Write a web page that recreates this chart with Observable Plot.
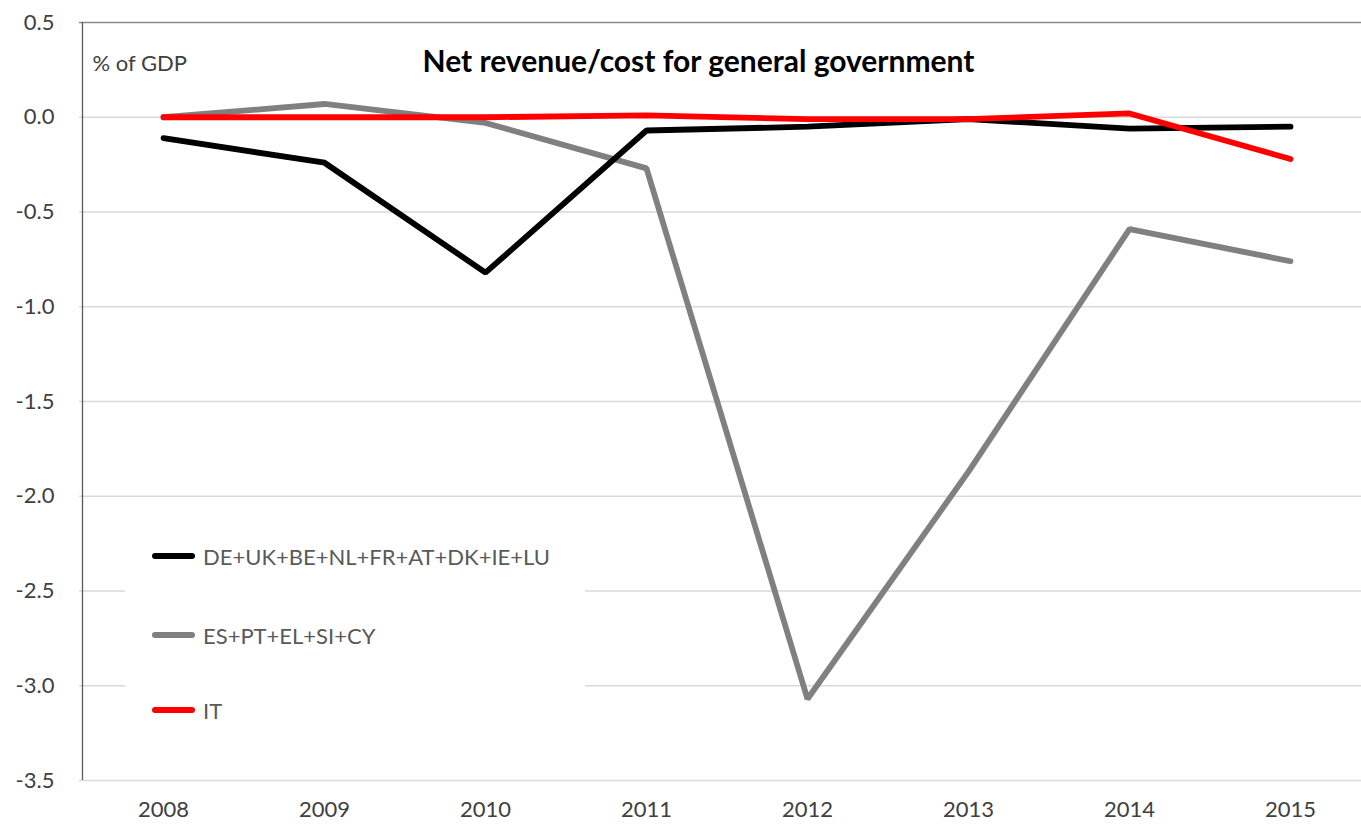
<!DOCTYPE html>
<html>
<head>
<meta charset="utf-8">
<script src="https://cdn.jsdelivr.net/npm/d3@7"></script>
<script src="https://cdn.jsdelivr.net/npm/@observablehq/plot@0.6"></script>
<style>
  html, body { margin: 0; padding: 0; background: #fff; }
  #wrap { position: relative; width: 1361px; height: 825px; overflow: hidden; font-family: Lato, "Open Sans", sans-serif; }
  #legend { position: absolute; left: 125px; top: 520px; width: 460px; height: 212px; background: #fff; }
  .li { position: absolute; left: 27px; height: 24px; display: flex; align-items: center; font-size: 22px; color: #595959; white-space: nowrap; }
  .sw { width: 43px; height: 6px; border-radius: 3px; margin-right: 8px; }
</style>
</head>
<body>
<div id="wrap"></div>
<script>
const years = ["2008","2009","2010","2011","2012","2013","2014","2015"];
const seriesNames = ["DE+UK+BE+NL+FR+AT+DK+IE+LU", "ES+PT+EL+SI+CY", "IT"];
const seriesColors = ["#000000", "#808080", "#ff0000"];
const northValues = [-0.11, -0.24, -0.82, -0.07, -0.05, -0.01, -0.06, -0.05];
const southValues = [0.00, 0.07, -0.03, -0.27, -3.07, -1.87, -0.59, -0.76];
const italyValues = [0.00, 0.00, 0.00, 0.01, -0.01, -0.01, 0.02, -0.22];
const yTicks = [0.5, 0.0, -0.5, -1.0, -1.5, -2.0, -2.5, -3.0, -3.5];
const titleText = "Net revenue/cost for general government";
const unitText = "% of GDP";

const allSeries = [northValues, southValues, italyValues];
const data = [];
allSeries.forEach((vals, i) => vals.forEach((v, j) => data.push({year: years[j], value: v, series: seriesNames[i]})));
const drawOrder = [seriesNames[1], seriesNames[0], seriesNames[2]];

const chart = Plot.plot({
  width: 1361,
  height: 825,
  marginLeft: 79,
  marginTop: 22,
  marginBottom: 45,
  marginRight: 0,
  style: {fontFamily: "Lato, 'Open Sans', sans-serif", fontSize: "22px", color: "#404040", background: "#fff", overflow: "hidden"},
  x: {type: "point", domain: years, padding: 0.5, range: [79, 1373], label: null},
  y: {domain: [-3.5, 0.5], ticks: yTicks, label: null, tickFormat: d => d.toFixed(1)},
  color: {domain: seriesNames, range: seriesColors},
  marks: [
    Plot.ruleY(yTicks.slice(1), {stroke: "#d9d9d9", strokeWidth: 1.3}),
    Plot.ruleY([yTicks[0]], {stroke: "#8c8c8c", strokeWidth: 1.3}),
    Plot.ruleX([years[0]], {dx: -81, stroke: "#595959", strokeWidth: 1.3}),
    Plot.axisY({ticks: yTicks, tickSize: 0, tickPadding: 25, tickFormat: d => d.toFixed(1), fill: "#404040", fontSize: 22, label: null}),
    Plot.axisX({tickSize: 0, tickPadding: 21, fill: "#404040", fontSize: 22, label: null}),
    ...drawOrder.map(name => Plot.line(data.filter(d => d.series === name), {
      x: "year", y: "value", stroke: "series", strokeWidth: 5.8, strokeLinejoin: "miter", strokeLinecap: "round"
    })),
    Plot.text([titleText], {frameAnchor: "top", lineAnchor: "middle", dx: -22, dy: 40, fontWeight: "bold", fontSize: 30, fill: "#000"}),
    Plot.text([unitText], {frameAnchor: "top-left", lineAnchor: "middle", dx: 13, dy: 41, fontSize: 22, fill: "#404040", textAnchor: "start"})
  ]
});

const wrap = document.getElementById("wrap");
wrap.appendChild(chart);

const legend = document.createElement("div");
legend.id = "legend";
const tops = [24, 103, 178];
seriesNames.forEach((name, i) => {
  const item = document.createElement("div");
  item.className = "li";
  item.style.top = tops[i] + "px";
  const sw = document.createElement("div");
  sw.className = "sw";
  sw.style.background = seriesColors[i];
  const label = document.createElement("span");
  label.textContent = name;
  item.appendChild(sw);
  item.appendChild(label);
  legend.appendChild(item);
});
wrap.appendChild(legend);
</script>
</body>
</html>
